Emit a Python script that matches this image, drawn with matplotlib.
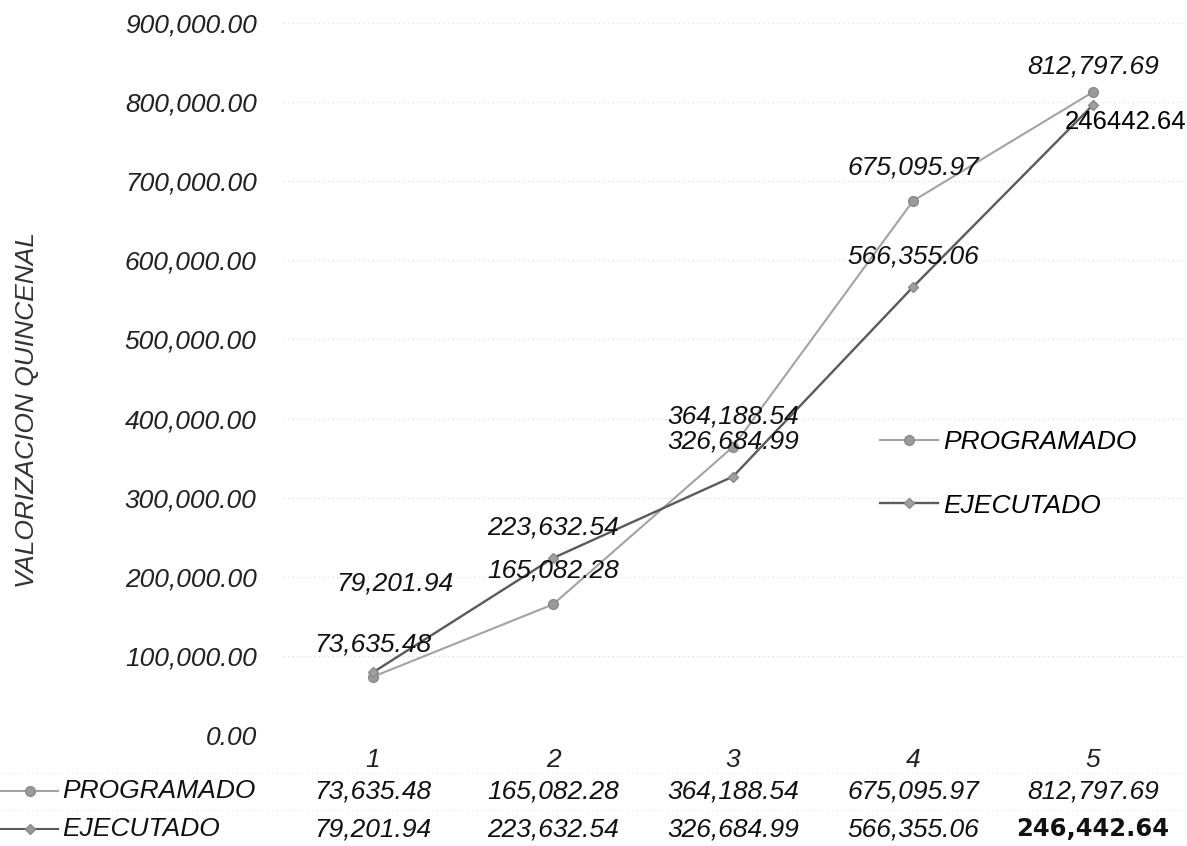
import matplotlib.pyplot as plt
from matplotlib.lines import Line2D

# Datos de la grafica (valorizacion quincenal)
periodos = [1, 2, 3, 4, 5]
programado = [73635.48, 165082.28, 364188.54, 675095.97, 812797.69]
# posicion dibujada del ultimo punto
ejecutado = [79201.94, 223632.54, 326684.99, 566355.06, 796442.64]
# valores que muestran las etiquetas y la tabla
ejecutado_tabla = [79201.94, 223632.54, 326684.99, 566355.06, 246442.64]
yticks = [0, 100000, 200000, 300000, 400000, 500000, 600000, 700000, 800000, 900000]

FONT = 'Liberation Sans'
FS = 19
c_prog = '#a3a3a3'
c_ejec = '#5a5a5a'

fig = plt.figure(figsize=(11.87, 8.46), dpi=100)
W, H = 1187, 846
ax = fig.add_axes([283 / W, 1 - 735 / H, 900 / W, 712 / H])

ax.plot(periodos, programado, color=c_prog, lw=1.5, marker='o', ms=7,
        mfc='#9a9a9a', mec='#8a8a8a', label='PROGRAMADO', zorder=3)
ax.plot(periodos, ejecutado, color=c_ejec, lw=1.7, marker='D', ms=5,
        mfc='#a0a0a0', mec='#8a8a8a', label='EJECUTADO', zorder=3)

ax.set_xlim(0.5, 5.5)
ax.set_ylim(0, 900000)
ax.set_yticks(yticks)
ax.set_yticklabels(['{:,.2f}'.format(v) for v in yticks],
                   fontfamily=FONT, fontstyle='italic', fontsize=FS, color='#222222')
ax.set_xticks(periodos)
ax.set_xticklabels([str(p) for p in periodos],
                   fontfamily=FONT, fontstyle='italic', fontsize=FS, color='#222222')
ax.tick_params(axis='y', length=0, pad=19)
ax.tick_params(axis='x', length=0, pad=9)
for s in ax.spines.values():
    s.set_visible(False)
ax.grid(axis='y', color='#d8d8d8', linestyle=(0, (1, 3)), lw=0.8)
ax.set_axisbelow(True)

fig.text(27 / W, 1 - 410 / H, 'VALORIZACION QUINCENAL', rotation=90,
         ha='center', va='center', fontfamily=FONT, fontstyle='italic',
         fontsize=FS, color='#333333')

# etiquetas de datos (desplazamiento en pixeles)
off_prog = [(0, 32), (0, 34), (0, 30), (0, 33), (0, 25)]
off_ejec = [(22, 89), (0, 31), (0, 35), (0, 30), (33, -17)]
for i, p in enumerate(periodos):
    ax.annotate('{:,.2f}'.format(programado[i]), (p, programado[i]),
                xytext=off_prog[i], textcoords='offset pixels',
                ha='center', va='center', fontfamily=FONT, fontstyle='italic',
                fontsize=FS, color='#111111', zorder=4)
    if i < 4:
        ax.annotate('{:,.2f}'.format(ejecutado_tabla[i]), (p, ejecutado[i]),
                    xytext=off_ejec[i], textcoords='offset pixels',
                    ha='center', va='center', fontfamily=FONT, fontstyle='italic',
                    fontsize=FS, color='#111111', zorder=4)
    else:
        ax.annotate('{:.2f}'.format(ejecutado_tabla[i]), (p, ejecutado[i]),
                    xytext=off_ejec[i], textcoords='offset pixels',
                    ha='center', va='center', fontfamily=FONT,
                    fontsize=18.5, color='#000000', zorder=4)

# leyenda dentro del area
ax.legend(loc='upper left', bbox_to_anchor=(880 / W, 1 - 430 / H),
          bbox_transform=fig.transFigure, frameon=False, borderpad=0,
          borderaxespad=0, labelspacing=1.5, handlelength=2.2,
          handletextpad=0.2,
          prop={'family': FONT, 'style': 'italic', 'size': FS})

# tabla de datos debajo del eje
tr = ax.get_xaxis_transform()
row_y = [(735 - 791) / 712, (735 - 829) / 712]
for i, p in enumerate(periodos):
    ax.text(p, row_y[0], '{:,.2f}'.format(programado[i]), transform=tr,
            ha='center', va='center', fontfamily=FONT, fontstyle='italic',
            fontsize=FS, color='#111111', clip_on=False)
    if i < 4:
        ax.text(p, row_y[1], '{:,.2f}'.format(ejecutado_tabla[i]), transform=tr,
                ha='center', va='center', fontfamily=FONT, fontstyle='italic',
                fontsize=FS, color='#111111', clip_on=False)
    else:
        ax.text(p, row_y[1], '{:,.2f}'.format(ejecutado_tabla[i]), transform=tr,
                ha='center', va='center', fontfamily='DejaVu Sans',
                fontweight='bold', fontsize=17.5, color='#111111', clip_on=False)

for ry, name, mk, lc in [(791, 'PROGRAMADO', 'o', c_prog),
                         (829, 'EJECUTADO', 'D', c_ejec)]:
    fy = 1 - ry / H
    fig.add_artist(Line2D([0, 58 / W], [fy, fy], transform=fig.transFigure,
                          color=lc, lw=1.5))
    fig.add_artist(Line2D([30 / W], [fy], transform=fig.transFigure, marker=mk,
                          ms=7 if mk == 'o' else 5, mfc='#9a9a9a', mec='#8a8a8a'))
    fig.text(62 / W, fy, name, ha='left', va='center', fontfamily=FONT,
             fontstyle='italic', fontsize=FS, color='#111111')

# separadores tenues de la tabla
for ry in [773, 810]:
    fy = 1 - ry / H
    fig.add_artist(Line2D([0, 1183 / W], [fy, fy], transform=fig.transFigure,
                          color='#e0e0e0', lw=0.8, linestyle=(0, (1, 3))))

fig.savefig('out.png', dpi=100, facecolor='white')
